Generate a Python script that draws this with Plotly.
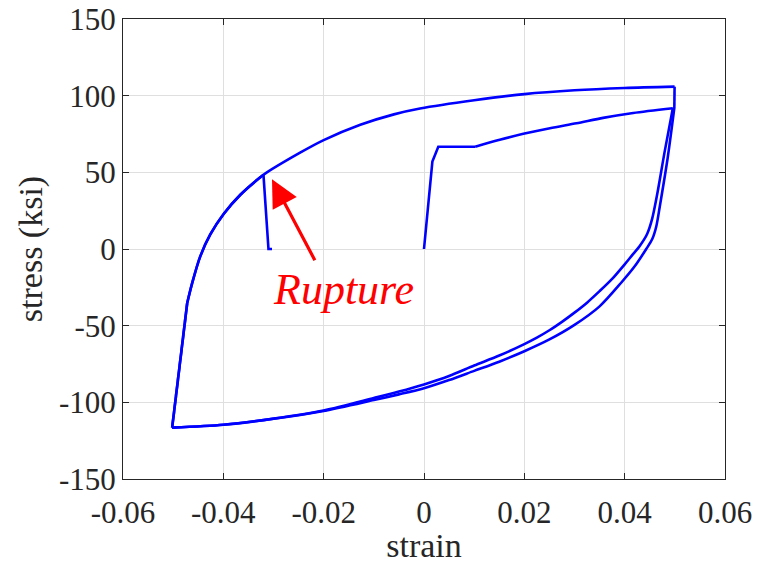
import plotly.graph_objects as go

# ---- data (strain, stress in ksi) ----
# initial elastic + yield plateau (straight pieces)
load1a_strain = [0.0, 0.00167, 0.00285, 0.0102]
load1a_stress = [0.0, 57.0, 66.7, 66.7]
# strain-hardening up to first peak
load1b_strain = [0.0102, 0.0151, 0.0198, 0.0251, 0.0304, 0.0357, 0.0417, 0.0496]
load1b_stress = [66.7, 71.2, 75.1, 78.8, 82.0, 85.5, 88.7, 91.8]

# first unloading / compression branch
unload1_strain = [0.0496, 0.048, 0.0465, 0.0455, 0.0445, 0.043, 0.0415, 0.040, 0.0375, 0.035,
                  0.0325, 0.030, 0.0275, 0.025, 0.0225, 0.020, 0.015, 0.010, 0.005, 0.0,
                  -0.005, -0.010, -0.020, -0.030, -0.040, -0.0502]
unload1_stress = [91.8, 64.0, 36.0, 20.0, 10.0, 2.0, -4.0, -10.0, -19.5, -27.5,
                  -35.0, -41.5, -47.5, -53.0, -57.8, -62.0, -69.5, -76.0, -82.8, -88.3,
                  -93.0, -97.2, -105.3, -110.6, -114.6, -116.5]

# reloading: straight elastic part, then curved part
reload_a_strain = [-0.0502, -0.0472]
reload_a_stress = [-116.5, -35.2]
reload_b_strain = [-0.0472, -0.0462, -0.0446, -0.0426, -0.0399, -0.0366, -0.032, -0.0247, -0.020,
                   -0.0127, -0.006, -0.0008, 0.010, 0.020, 0.030, 0.040, 0.04995]
reload_b_stress = [-35.2, -22.1, -4.8, 9.5, 23.0, 35.4, 48.4, 62.8, 71.0,
                   81.0, 87.8, 91.6, 97.0, 101.0, 103.5, 105.0, 105.9]

# second unloading
unload2a_strain = [0.04995, 0.0499]
unload2a_stress = [105.9, 92.0]
unload2b_strain = [0.0499, 0.0486, 0.047, 0.0463, 0.0455, 0.0443, 0.042, 0.0393, 0.035, 0.030,
                   0.025, 0.020, 0.015, 0.010, 0.005, 0.0, -0.005, -0.010, -0.020, -0.030,
                   -0.040, -0.0502]
unload2b_stress = [92.0, 60.0, 27.7, 14.7, 6.5, 0.0, -11.3, -22.0, -37.4, -49.5,
                   -59.0, -66.7, -73.5, -79.5, -85.5, -90.8, -94.8, -98.5, -105.6, -110.7,
                   -114.6, -116.5]

# second reloading up to rupture, then drop
reload2_strain = [-0.0472, -0.0462, -0.0446, -0.0426, -0.0399, -0.0366, -0.032]
reload2_stress = [-35.2, -22.1, -4.8, 9.5, 23.0, 35.4, 48.4]
rupture_strain = [-0.032, -0.031, -0.0303]
rupture_stress = [48.4, 0.0, 0.0]

x_ticks = [-0.06, -0.04, -0.02, 0, 0.02, 0.04, 0.06]
x_ticktext = ["-0.06", "-0.04", "-0.02", "0", "0.02", "0.04", "0.06"]
y_ticks = [-150, -100, -50, 0, 50, 100, 150]
y_ticktext = ["-150", "-100", "-50", "0", "50", "100", "150"]

# annotation positions (data coords)
arrow_head = (-0.0303, 45.5)
arrow_tail = (-0.0216, -8.3)
label_pos = (-0.0161, -26.5)

FONT = "Liberation Serif"
AX = "#262626"
GRID = "#dfdfdf"
BLUE = "#0000ff"

segments = [
    (load1a_strain, load1a_stress, "linear"),
    (load1b_strain, load1b_stress, "spline"),
    (unload1_strain, unload1_stress, "spline"),
    (reload_a_strain, reload_a_stress, "linear"),
    (reload_b_strain, reload_b_stress, "spline"),
    (unload2a_strain, unload2a_stress, "linear"),
    (unload2b_strain, unload2b_stress, "spline"),
    (reload_a_strain, reload_a_stress, "linear"),
    (reload2_strain, reload2_stress, "spline"),
    (rupture_strain, rupture_stress, "linear"),
]

fig = go.Figure()
for xs, ys, shape in segments:
    fig.add_trace(go.Scatter(x=xs, y=ys, mode="lines",
                             line=dict(color=BLUE, width=2.6, shape=shape, smoothing=0.8),
                             showlegend=False, hoverinfo="skip"))

fig.add_annotation(x=arrow_head[0], y=arrow_head[1], ax=arrow_tail[0], ay=arrow_tail[1],
                   xref="x", yref="y", axref="x", ayref="y", text="",
                   showarrow=True, arrowhead=2, arrowsize=1.7, arrowwidth=3.2,
                   arrowcolor="#ff0000")
fig.add_annotation(x=label_pos[0], y=label_pos[1], xref="x", yref="y",
                   text="<i>Rupture</i>", showarrow=False,
                   font=dict(family=FONT, size=44, color="#ff0000"))

axis_common = dict(showline=True, linecolor=AX, linewidth=1, mirror="ticks",
                   ticks="inside", ticklen=6, tickcolor=AX, tickwidth=1,
                   showgrid=True, gridcolor=GRID, gridwidth=1, zeroline=False,
                   ticklabeloverflow="allow",
                   tickfont=dict(family=FONT, size=31, color=AX))

fig.update_xaxes(range=[-0.06, 0.06], tickvals=x_ticks, ticktext=x_ticktext,
                 ticklabelstandoff=6,
                 title=dict(text="strain", font=dict(family=FONT, size=34, color=AX), standoff=0),
                 **axis_common)
fig.update_yaxes(range=[-150, 150], tickvals=y_ticks, ticktext=y_ticktext,
                 title=dict(text="stress (ksi)", font=dict(family=FONT, size=34, color=AX), standoff=6),
                 **axis_common)

fig.update_layout(width=763, height=564, autosize=False,
                  margin=dict(l=122.5, r=37.5, t=19, b=85, autoexpand=False),
                  paper_bgcolor="white", plot_bgcolor="white")

fig.write_html("out.html", config={"displayModeBar": False},
               post_script="document.body.style.margin='0';")
